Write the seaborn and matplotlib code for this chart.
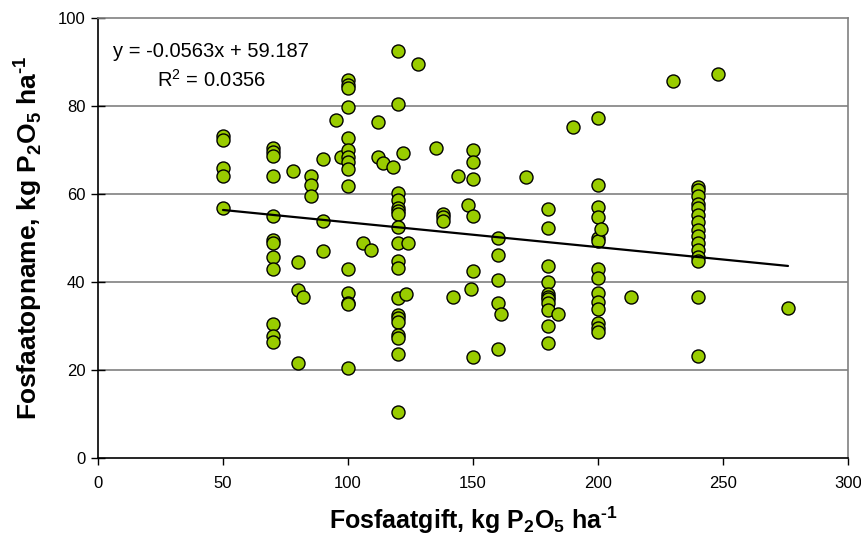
import numpy as np
import pandas as pd
import matplotlib
matplotlib.use("Agg")
import matplotlib.pyplot as plt
import seaborn as sns

# Phosphate dose (kg P2O5/ha) and phosphate uptake (kg P2O5/ha)
dose = ([50] * 5 + [70] * 12 + [78] + [80] * 3 + [82] + [85] * 3 + [90] * 3 + [95, 97]
        + [100] * 15 + [106, 109, 112, 112, 114, 118] + [120] * 19
        + [122, 123, 124, 128, 135] + [138] * 3 + [142, 144, 148, 149] + [150] * 6
        + [160] * 5 + [161, 171] + [180] * 11 + [184, 190] + [200] * 14
        + [201, 213, 230] + [240] * 15 + [248, 276])
uptake = ([73.2, 72.3, 65.9, 64.1, 56.8]
          + [70.5, 69.5, 68.6, 64.1, 55.0, 49.5, 48.9, 45.7, 43.0, 30.4, 27.7, 26.4]
          + [65.2]
          + [44.6, 38.2, 21.6]
          + [36.6]
          + [64.1, 62.0, 59.5]
          + [68.0, 53.9, 47.0]
          + [76.8, 68.4]
          + [85.9, 84.8, 84.1, 79.8, 72.7, 70.0, 68.4, 67.3, 65.7, 61.8, 43.0, 37.5, 35.2, 35.0, 20.5]
          + [48.9, 47.3, 76.4, 68.4, 67.0, 66.1]
          + [92.5, 80.4, 60.2, 58.6, 56.8, 56.1, 55.5, 52.5, 48.9, 44.8, 43.2, 36.4,
             32.5, 31.8, 30.9, 28.0, 27.3, 23.6, 10.5]
          + [69.3, 37.3, 48.9, 89.5, 70.5]
          + [55.5, 54.8, 53.9]
          + [36.6, 64.1, 57.5, 38.4]
          + [70.0, 67.3, 63.4, 55.0, 42.5, 23.0]
          + [50.0, 46.1, 40.5, 35.2, 24.8]
          + [32.7, 63.9]
          + [56.6, 52.3, 43.6, 40.0, 37.3, 36.6, 36.1, 35.2, 33.6, 30.0, 26.1]
          + [32.7, 75.2]
          + [77.3, 62.0, 57.0, 54.8, 50.0, 49.3, 43.0, 40.9, 37.5, 35.5, 33.9, 30.7, 29.5, 28.6]
          + [52.0, 36.6, 85.7]
          + [61.6, 60.9, 59.5, 57.7, 56.8, 55.2, 53.6, 51.8, 50.5, 48.9, 47.3, 45.7, 44.8, 36.6, 23.2]
          + [87.2, 34.1])

# Trendline as printed on the chart
slope = -0.0563
intercept = 59.187
r_squared = 0.0356

df = pd.DataFrame({"dose": dose, "uptake": uptake})

sns.set_theme(style="white")
plt.rcParams["font.family"] = ["Liberation Sans", "DejaVu Sans"]
plt.rcParams["mathtext.fontset"] = "custom"
plt.rcParams["mathtext.rm"] = "Liberation Sans"
plt.rcParams["mathtext.bf"] = "Liberation Sans:bold"
plt.rcParams["text.color"] = "black"
plt.rcParams["axes.labelcolor"] = "black"
plt.rcParams["xtick.color"] = "black"
plt.rcParams["ytick.color"] = "black"

fig = plt.figure(figsize=(8.61, 5.38), dpi=100)
ax = fig.add_axes([98 / 861, 1 - 458 / 538, 750 / 861, 440 / 538])

# horizontal gridlines
for yv in [20, 40, 60, 80]:
    ax.axhline(yv, color="#808080", lw=1.2, zorder=0)

sns.scatterplot(data=df, x="dose", y="uptake", ax=ax, color="#99CC00",
                edgecolor="black", linewidth=1.0, s=88, zorder=3)

xs = np.array([min(dose), max(dose)])
ax.plot(xs, slope * xs + intercept, color="black", lw=1.6, zorder=4)

ax.set_xlim(0, 300)
ax.set_ylim(0, 100)
ax.set_xticks(range(0, 301, 50))
ax.set_yticks(range(0, 101, 20))

for side in ["left", "bottom"]:
    ax.spines[side].set_color("black")
    ax.spines[side].set_linewidth(1.2)
for side in ["top", "right"]:
    ax.spines[side].set_color("#808080")
    ax.spines[side].set_linewidth(1.2)

ax.tick_params(axis="x", direction="out", length=5, width=1, color="black",
               labelsize=12, pad=8, bottom=True)
ax.tick_params(axis="y", direction="inout", length=10, width=1, color="black",
               labelsize=12, pad=4, left=True)

ax.set_xlabel("Fosfaatgift, kg P$_\\mathbf{2}$O$_\\mathbf{5}$ ha$^\\mathbf{\u20101}$",
              fontsize=18, fontweight="bold", labelpad=10)
ax.set_ylabel("Fosfaatopname, kg P$_\\mathbf{2}$O$_\\mathbf{5}$ ha$^\\mathbf{\u20101}$",
              fontsize=19, fontweight="bold", labelpad=10)

ax.text(0.151, 0.923, f"y = {slope:.4f}x + {intercept:.3f}", transform=ax.transAxes,
        ha="center", va="center", fontsize=14.5)
ax.text(0.151, 0.859, f"R$^2$ = {r_squared:.4f}", transform=ax.transAxes,
        ha="center", va="center", fontsize=14.5)

fig.savefig("out.png", dpi=100)
